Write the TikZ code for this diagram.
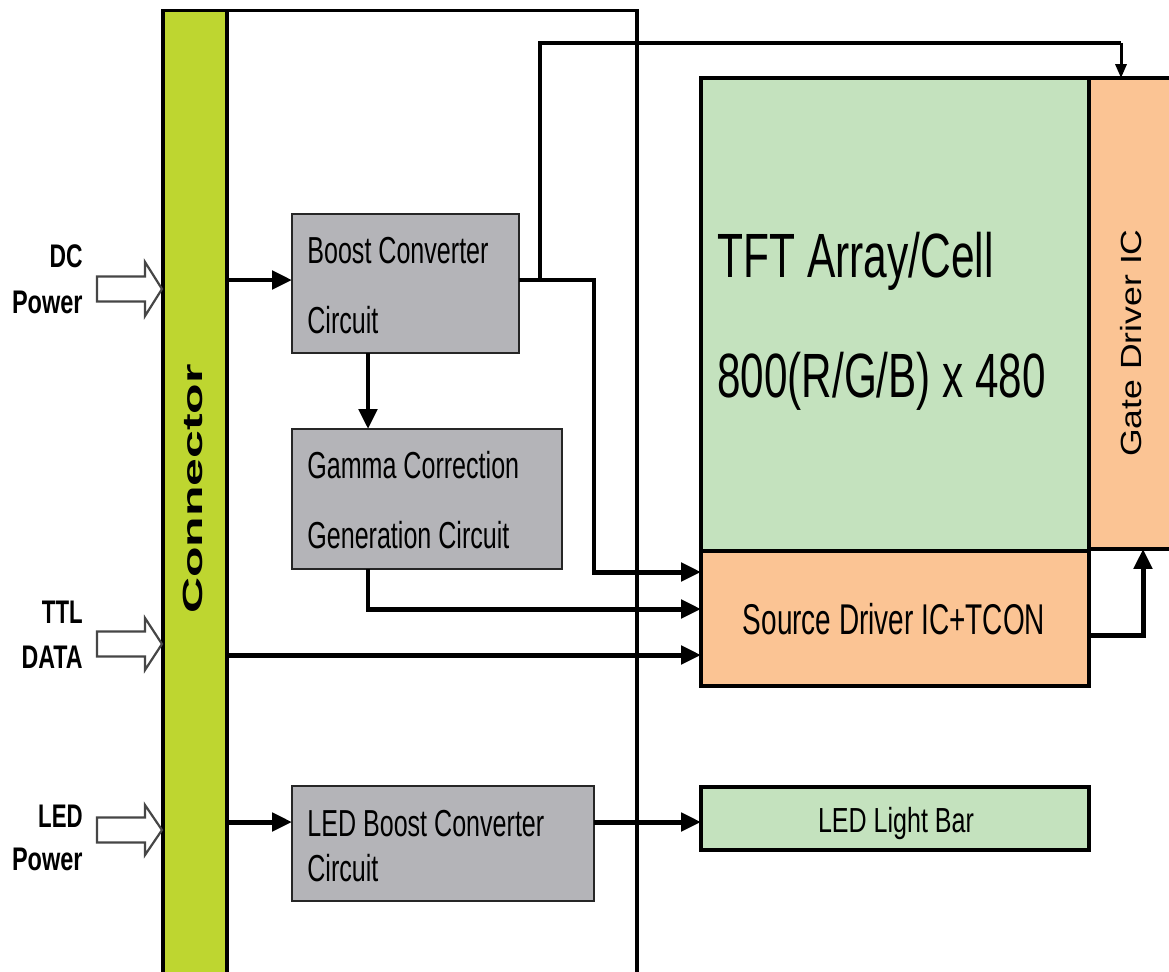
\documentclass[tikz,border=0pt]{standalone}
\usepackage{fontspec}
\setmainfont{Liberation Sans}
\usetikzlibrary{arrows.meta}
\newdimen\pxu \pxu=0.02cm
\newcommand\fsz[1]{\fontsize{#1pt}{#1pt}\selectfont}
\newcommand\sx[2]{\scalebox{#1}[1]{#2}}
\definecolor{congreen}{RGB}{190,214,48}
\definecolor{boxgray}{RGB}{180,180,184}
\definecolor{tftgreen}{RGB}{196,226,190}
\definecolor{icorange}{RGB}{251,196,148}
\definecolor{hollowgray}{RGB}{70,70,70}
\begin{document}
\begin{tikzpicture}[x=0.02cm,y=-0.02cm,
  blk/.style={draw=black, line width=2.27pt, inner sep=0, outer sep=0},
  gbox/.style={draw=black!85, fill=boxgray, line width=1.42pt, inner sep=0, outer sep=0},
  wire/.style={line width=2.83pt},
  conn/.style={line width=2.83pt, -{Triangle[length=11.3pt,width=10.2pt]}},
  thinconn/.style={line width=1.7pt, -{Triangle[length=7.9pt,width=6.3pt]}},
  hollow/.style={draw=hollowgray, line width=1.25pt, fill=white, line join=miter},
  lbl/.style={font=\fsz{18.6}\bfseries, inner sep=0, anchor=base east},
  btxt/.style={font=\fsz{21.4}, inner sep=0, anchor=base west},
  ]
\fill[white] (0,0) rectangle (1169,971);

% board outline and connector bar
\node[blk, minimum width=473.5\pxu, minimum height=989\pxu] (board) at (399.75,505) {};
\node[blk, fill=congreen, minimum width=64\pxu, minimum height=989\pxu] (conbar) at (195,505) {};
\node[rotate=90, anchor=base, inner sep=0, font=\fsz{15.8}\bfseries] (conlbl) at (202,489) {\sx{1.8}{Connector}};

% gray circuit blocks
\node[gbox, minimum width=227\pxu, minimum height=139\pxu] (boost) at (405.5,283.5) {};
\node[btxt] (boostT1) at (307,263) {\sx{0.667}{Boost Converter}};
\node[btxt] (boostT2) at (307,333) {\sx{0.667}{Circuit}};

\node[gbox, minimum width=270\pxu, minimum height=140\pxu] (gamma) at (427,499) {};
\node[btxt] (gammaT1) at (307,478) {\sx{0.667}{Gamma Correction}};
\node[btxt] (gammaT2) at (307,548) {\sx{0.667}{Generation Circuit}};

\node[gbox, minimum width=302\pxu, minimum height=115\pxu] (ledboost) at (443,843.5) {};
\node[btxt] (ledbT1) at (307,836) {\sx{0.667}{LED Boost Converter}};
\node[btxt] (ledbT2) at (307,881) {\sx{0.667}{Circuit}};

% panel blocks
\node[blk, fill=icorange, minimum width=110\pxu, minimum height=471\pxu] (gate) at (1144,313.5) {};
\node[blk, fill=tftgreen, minimum width=388\pxu, minimum height=473\pxu] (tft) at (895,314.5) {};
\node[blk, fill=icorange, minimum width=388\pxu, minimum height=135\pxu] (src) at (895,618.5) {};
\node[blk, fill=tftgreen, minimum width=388\pxu, minimum height=63\pxu] (ledbar) at (895,818.5) {};

\node[inner sep=0, anchor=base west, font=\fsz{35.6}] (tftT1) at (717,277) {\sx{0.68}{TFT Array/Cell}};
\node[inner sep=0, anchor=base west, font=\fsz{35.6}] (tftT2) at (717,397) {\sx{0.675}{800(R/G/B) x 480}};
\node[rotate=90, anchor=base, inner sep=0, font=\fsz{16.6}] (gateT) at (1141,343) {\sx{1.22}{Gate Driver IC}};
\node[inner sep=0, anchor=base, font=\fsz{24.5}] (srcT) at (894,634) {\sx{0.65}{Source Driver IC+TCON}};
\node[inner sep=0, anchor=base, font=\fsz{19.8}] (ledbarT) at (896,832) {\sx{0.72}{LED Light Bar}};

% input labels
\node[lbl] (dc1) at (83,267) {\sx{0.7}{DC}};
\node[lbl] (dc2) at (83,313) {\sx{0.72}{Power}};
\node[lbl] (ttl1) at (83,623) {\sx{0.68}{TTL}};
\node[lbl] (ttl2) at (83,668) {\sx{0.71}{DATA}};
\node[lbl] (led1) at (83,827) {\sx{0.68}{LED}};
\node[lbl] (led2) at (83,870) {\sx{0.72}{Power}};

% hollow input arrows
\coordinate (dcT) at (162,289);
\coordinate (ttlT) at (162,644);
\coordinate (ledT) at (162,830);
\foreach \t/\h in {dcT/27, ttlT/26, ledT/25}{
  \draw[hollow] (\t) -- ++(-17,-\h) -- ++(0,\h-12.5) -- ++(-48,0) -- ++(0,25)
     -- ++(48,0) -- ++(0,\h-12.5) -- cycle;
}

% helper coordinates
\coordinate (rowB) at (0,280);
\coordinate (jA) at (540,280);
\coordinate (jB) at (594,280);
\coordinate (topL) at (540,43);
\coordinate (topR) at (1121,43);
\coordinate (sA) at (0,572);
\coordinate (sB) at (0,609);
\coordinate (sC) at (0,655);
\coordinate (gcol) at (368,0);
\coordinate (gx) at (1143,635);
\coordinate (lA) at (0,822);

% connectors
\draw[conn] (conbar.east |- rowB) -- (boost.west |- rowB);
\draw[conn] (boost.south -| gcol) -- (gamma.north -| gcol);
\draw[conn] (boost.east |- jB) -- (jB) |- (src.west |- sA);
\draw[wire, line join=miter] (jA) -- (topL) -- (topR);
\draw[thinconn] (topR) -- (gate.north -| topR);
\draw[conn] (gamma.south -| gcol) |- (src.west |- sB);
\draw[conn] (conbar.east |- sC) -- (src.west |- sC);
\draw[conn] (src.east |- gx) -| (gate.south -| gx);
\draw[conn] (conbar.east |- lA) -- (ledboost.west |- lA);
\draw[conn] (ledboost.east |- lA) -- (ledbar.west |- lA);

\pgfresetboundingbox
\path[use as bounding box] (0,0) rectangle (1169,971);
\end{tikzpicture}
\end{document}
